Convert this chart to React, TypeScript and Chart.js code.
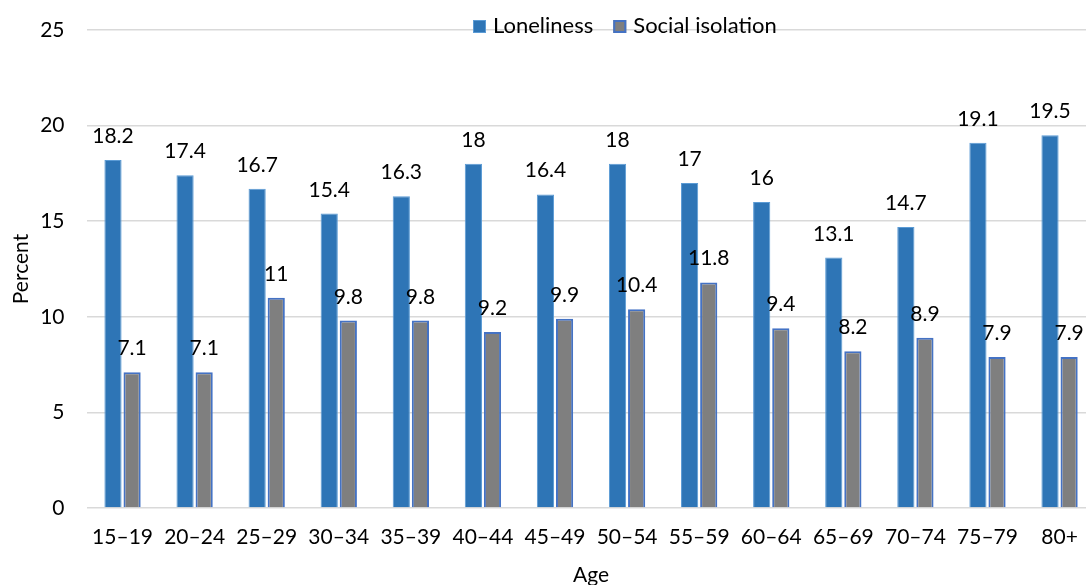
import React, { useEffect, useRef } from "react";
import { Chart, registerables } from "chart.js";

Chart.register(...registerables);

const categories = ["15–19", "20–24", "25–29", "30–34", "35–39", "40–44", "45–49", "50–54", "55–59", "60–64", "65–69", "70–74", "75–79", "80+"];
const loneliness = [18.2, 17.4, 16.7, 15.4, 16.3, 18, 16.4, 18, 17, 16, 13.1, 14.7, 19.1, 19.5];
const socialIsolation = [7.1, 7.1, 11, 9.8, 9.8, 9.2, 9.9, 10.4, 11.8, 9.4, 8.2, 8.9, 7.9, 7.9];
const seriesNames = ["Loneliness", "Social isolation"];
const yTicks = [0, 5, 10, 15, 20, 25];

const FONT = "Lato, 'Open Sans', sans-serif";
const BLUE = "#2e75b6";
const BLUE_EDGE = "#5b9bd5";
const GRAY = "#7f7f7f";
const GRAY_EDGE = "#4472c4";

const W = 1100;
const H = 595;

const labelPlugin = {
  id: "valueLabels",
  afterDatasetsDraw(chart: any) {
    const ctx = chart.ctx;
    ctx.save();
    ctx.font = `21px ${FONT}`;
    ctx.fillStyle = "#000";
    ctx.textAlign = "center";
    ctx.textBaseline = "alphabetic";
    chart.data.datasets.forEach((ds: any, di: number) => {
      const meta = chart.getDatasetMeta(di);
      meta.data.forEach((bar: any, i: number) => {
        ctx.fillText(String(ds.data[i]), bar.x, bar.y - 17);
      });
    });
    ctx.restore();
  },
};

const legendPlugin = {
  id: "topLegend",
  afterDraw(chart: any) {
    const ctx = chart.ctx;
    ctx.save();
    ctx.font = `22px ${FONT}`;
    ctx.textBaseline = "alphabetic";
    ctx.textAlign = "left";
    let x = 473;
    const boxTop = 20;
    const size = 13;
    chart.data.datasets.forEach((ds: any, di: number) => {
      ctx.fillStyle = ds.backgroundColor;
      ctx.fillRect(x, boxTop, size, size);
      ctx.lineWidth = di === 1 ? 2 : 1;
      ctx.strokeStyle = ds.borderColor;
      ctx.strokeRect(x + ctx.lineWidth / 2, boxTop + ctx.lineWidth / 2, size - ctx.lineWidth, size - ctx.lineWidth);
      ctx.fillStyle = "#000";
      const tx = x + size + 7;
      ctx.fillText(ds.label, tx, 33);
      x = tx + ctx.measureText(ds.label).width + 20;
    });
    ctx.restore();
  },
};

export default function App() {
  const ref = useRef<HTMLCanvasElement | null>(null);

  useEffect(() => {
    document.body.style.overflow = "hidden";
    const canvas = ref.current;
    if (!canvas) return;
    const chart = new Chart(canvas, {
      type: "bar",
      data: {
        labels: categories,
        datasets: [
          {
            label: seriesNames[0],
            data: loneliness,
            backgroundColor: BLUE,
            borderColor: BLUE_EDGE,
            borderWidth: 1,
            categoryPercentage: 0.53,
            barPercentage: 0.9,
          },
          {
            label: seriesNames[1],
            data: socialIsolation,
            backgroundColor: GRAY,
            borderColor: GRAY_EDGE,
            borderWidth: 2,
            categoryPercentage: 0.53,
            barPercentage: 0.9,
          },
        ],
      },
      options: {
        animation: false,
        responsive: false,
        devicePixelRatio: 1,
        layout: { padding: { top: 30, right: 4.4, left: 0, bottom: 0 } },
        plugins: {
          legend: { display: false },
          tooltip: { enabled: false },
        },
        scales: {
          x: {
            grid: { display: false, drawTicks: false },
            border: { display: false },
            ticks: {
              color: "#000",
              font: { family: FONT, size: 21 },
              padding: 17,
              maxRotation: 0,
              autoSkip: false,
            },
            title: {
              display: true,
              text: "Age",
              color: "#000",
              font: { family: FONT, size: 21, lineHeight: 1.2 },
              padding: { top: 0, bottom: 7 },
            },
            afterFit(scale: any) {
              scale.height = 87;
              scale.paddingTop = 0;
              scale.paddingBottom = 0;
              scale.paddingLeft = 0;
              scale.paddingRight = 0;
            },
          },
          y: {
            min: 0,
            max: 25,
            afterBuildTicks(scale: any) {
              scale.ticks = yTicks.map((v) => ({ value: v }));
            },
            grid: { color: "#d9d9d9", lineWidth: 1.5, drawTicks: false },
            border: { display: false },
            ticks: {
              color: "#000",
              font: { family: FONT, size: 21 },
              padding: 22,
            },
            title: {
              display: true,
              text: "Percent",
              color: "#000",
              font: { family: FONT, size: 21, lineHeight: 1.2 },
              padding: { top: 9, bottom: 0 },
            },
            afterFit(scale: any) {
              scale.width = 86.5;
              scale.paddingTop = 0;
              scale.paddingBottom = 0;
              scale.paddingLeft = 0;
              scale.paddingRight = 0;
            },
          },
        },
      },
      plugins: [labelPlugin, legendPlugin],
    });
    return () => chart.destroy();
  }, []);

  return (
    <div style={{ position: "fixed", left: 0, top: 0, width: W, height: H, background: "#fff" }}>
      <canvas ref={ref} width={W} height={H} style={{ width: W, height: H, display: "block" }} />
    </div>
  );
}
